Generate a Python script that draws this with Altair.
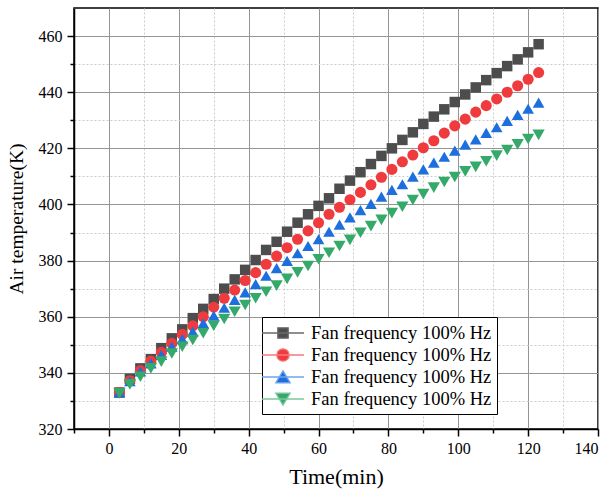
import altair as alt
import pandas as pd

FONT = "Liberation Serif"

time_min = [3, 6, 9, 12, 15, 18, 21, 24, 27, 30, 33, 36, 39, 42, 45, 48, 51, 54, 57, 60,
            63, 66, 69, 72, 75, 78, 81, 84, 87, 90, 93, 96, 99, 102, 105, 108, 111, 114, 117, 120, 123]

temp_s1 = [333.0, 337.9, 341.6, 344.9, 348.8, 352.3, 355.5, 359.5, 362.8, 366.3, 370.0,
           373.3, 376.7, 380.2, 383.8, 386.7, 390.3, 393.5, 396.5, 399.5, 402.2, 405.6,
           408.5, 411.5, 414.4, 417.3, 420.0, 423.0, 425.7, 428.7, 431.3, 433.9, 436.5,
           439.2, 441.7, 444.3, 446.8, 449.3, 451.7, 454.2, 457.1]
temp_s2 = [333.0, 337.2, 340.8, 344.2, 347.3, 350.5, 353.7, 356.8, 360.0, 363.4, 366.6,
           369.5, 372.9, 375.7, 378.7, 381.6, 384.6, 387.6, 390.6, 393.5, 396.5, 399.0,
           401.7, 404.3, 407.0, 409.7, 412.5, 415.2, 417.6, 420.2, 422.7, 425.4, 428.0,
           430.4, 432.9, 435.2, 437.6, 440.0, 442.3, 444.6, 447.0]
temp_s3 = [333.0, 337.0, 340.5, 343.4, 346.4, 349.3, 352.0, 354.7, 357.7, 360.4, 363.2,
           366.0, 368.7, 371.6, 374.6, 377.3, 379.9, 382.6, 385.2, 387.6, 390.3, 392.8,
           395.4, 398.0, 400.2, 402.8, 405.2, 407.2, 409.9, 412.5, 414.9, 417.0, 419.2,
           421.3, 423.2, 425.5, 427.5, 429.8, 431.9, 434.1, 436.3]
temp_s4 = [332.7, 335.9, 338.6, 341.6, 344.0, 346.9, 349.3, 351.7, 354.1, 356.8, 359.2,
           361.8, 364.2, 366.6, 368.9, 371.1, 373.5, 375.8, 378.1, 380.5, 382.8, 385.2,
           387.4, 389.9, 392.3, 394.5, 396.9, 399.2, 401.6, 403.7, 406.0, 408.0, 409.8,
           411.8, 413.4, 415.4, 417.4, 419.4, 421.4, 423.3, 424.8]

series_ids = ["s1", "s2", "s3", "s4"]
legend_label = "Fan frequency 100% Hz"
dark_colors = ["#4d4d4d", "#ef3b3e", "#1c6fdc", "#34a96a"]
light_colors = ["#6a6a6a", "#f57a7c", "#6fa3ec", "#7cc89c"]
shapes = ["square", "circle", "triangle-up", "triangle-down"]
sizes = [110, 150, 190, 190]
legend_paths = [
    "M-1.6,0H2.6M-0.02,-0.52H1.02V0.52H-0.02Z",
    "M-1.6,0H2.6M1.12,0A0.62,0.62,0,1,1,-0.12,0A0.62,0.62,0,1,1,1.12,0Z",
    "M-1.6,0H2.6M0.5,-0.62L1.22,0.58L-0.22,0.58Z",
    "M-1.6,0H2.6M0.5,0.62L1.22,-0.58L-0.22,-0.58Z",
]

rows = []
for sid, vals in zip(series_ids, [temp_s1, temp_s2, temp_s3, temp_s4]):
    for t, v in zip(time_min, vals):
        rows.append({"time": t, "temp": v, "series": sid, "legend_series": sid})
df = pd.DataFrame(rows)

x_scale = alt.Scale(domain=[-10, 140], nice=False, zero=False)
y_scale = alt.Scale(domain=[320, 470], nice=False, zero=False)

major_x_vals = list(range(0, 141, 20))
minor_x_vals = list(range(-10, 131, 20))
major_y_vals = list(range(320, 461, 20))
minor_y_vals = list(range(330, 451, 20))

common_axis = dict(
    labelFont=FONT, labelFontSize=16, labelColor="black",
    titleFont=FONT, titleFontWeight="normal", titleColor="black",
    tickColor="black", tickWidth=1.5, domainColor="black", domainWidth=1.5,
    gridColor="#959595", gridWidth=1,
)

x_major = alt.Axis(orient="bottom", values=major_x_vals, grid=True, tickSize=7, labelPadding=4,
                   title="Time(min)", titleFontSize=22, titlePadding=10, **common_axis)
y_major = alt.Axis(orient="left", values=major_y_vals, grid=True, tickSize=7, labelPadding=5,
                   title="Air temperature(K)", titleFontSize=19.5, titlePadding=12, **common_axis)

minor_axis_kw = dict(grid=True, gridColor="#cccccc", gridDash=[2, 2], gridWidth=1,
                     labels=False, domain=False, tickSize=4, tickColor="black",
                     tickWidth=1.5, title=None)
x_minor = alt.Axis(orient="bottom", values=minor_x_vals, **minor_axis_kw)
y_minor = alt.Axis(orient="left", values=minor_y_vals, **minor_axis_kw)

minor_layer = alt.Chart(df).transform_filter("false").mark_point(opacity=0).encode(
    x=alt.X("time:Q", scale=x_scale, axis=x_minor),
    y=alt.Y("temp:Q", scale=y_scale, axis=y_minor),
)

points = alt.Chart(df).mark_point(filled=True, opacity=1, strokeWidth=0).encode(
    x=alt.X("time:Q", scale=x_scale, axis=x_major),
    y=alt.Y("temp:Q", scale=y_scale, axis=y_major),
    color=alt.Color("series:N", scale=alt.Scale(domain=series_ids, range=dark_colors), legend=None),
    shape=alt.Shape("series:N", scale=alt.Scale(domain=series_ids, range=shapes), legend=None),
    size=alt.Size("series:N", scale=alt.Scale(domain=series_ids, range=sizes), legend=None),
)

leg = alt.Legend(
    title=None, orient="none", legendX=188, legendY=309, padding=5,
    strokeColor="black", fillColor="white", rowPadding=1, labelOffset=22,
    labelFont=FONT, labelFontSize=18.5, labelColor="black", labelLimit=400,
    symbolSize=400, symbolStrokeWidth=1.3, symbolOpacity=1,
    labelExpr="'" + legend_label + "'",
)

legend_layer = alt.Chart(df).transform_filter("false").mark_point(
    filled=True, size=400, opacity=1
).encode(
    x=alt.X("time:Q", scale=x_scale, axis=None),
    y=alt.Y("temp:Q", scale=y_scale, axis=None),
    fill=alt.Fill("legend_series:N", scale=alt.Scale(domain=series_ids, range=dark_colors), legend=leg),
    stroke=alt.Stroke("legend_series:N", scale=alt.Scale(domain=series_ids, range=light_colors), legend=leg),
    shape=alt.Shape("legend_series:N", scale=alt.Scale(domain=series_ids, range=legend_paths), legend=leg),
)

chart = alt.layer(minor_layer, points, legend_layer).resolve_axis(
    x="independent", y="independent"
).resolve_scale(
    shape="independent", fill="independent", stroke="independent",
    color="independent", size="independent"
).resolve_legend(
    shape="independent", fill="independent", stroke="independent"
).properties(
    width=524, height=421,
    autosize=alt.AutoSizeParams(type="none"),
    padding={"left": 74, "top": 8, "right": 11, "bottom": 66},
    background="white",
).configure_view(stroke="black", strokeWidth=1.5)

chart.save("out.html", embed_options={"renderer": "svg", "actions": False})
